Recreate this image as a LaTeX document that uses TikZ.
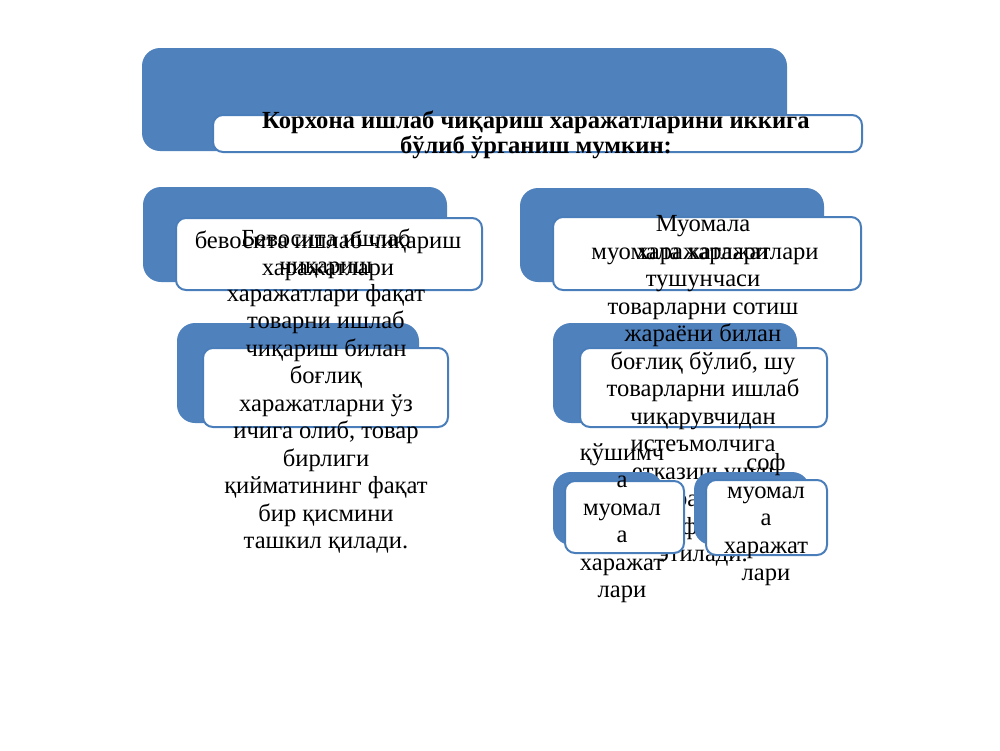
\documentclass[tikz,border=0pt]{standalone}
\usepackage{fontspec}
\setmainfont{Liberation Serif}
\definecolor{boxblue}{HTML}{4F81BD}
\definecolor{edgeblue}{HTML}{4A7EBB}
\begin{document}
\begin{tikzpicture}[x=1pt,y=-1pt,
  back/.style={fill=boxblue, draw=none, rounded corners=18pt},
  front/.style={fill=white, draw=edgeblue, line width=2pt, rounded corners=10pt},
  txt/.style={align=center, inner sep=0pt, font=\fontsize{24.6}{27.5}\selectfont},
  ttl/.style={align=center, inner sep=0pt, font=\bfseries\fontsize{24.6}{25}\selectfont}]
\useasboundingbox (0,0) rectangle (1000,750);
% title
\path[back] (142,48) rectangle (787,151);
\path[front] (213,115) rectangle (862,152);
\node[ttl] (title) at (536,135) {Корхона ишлаб чиқариш харажатларини иккига\\бўлиб ўрганиш мумкин:};
% left level 1
\path[back] (143,187) rectangle (447,282);
\path[front] (176,218) rectangle (482,290);
\node[txt] (l1) at (328,256) {бевосита ишлаб чиқариш\\харажатлари};
% right level 1
\path[back] (520,188) rectangle (824,282);
\path[front] (553,217) rectangle (861,290);
\node[txt] (r1) at (705,256) {муомала харажатлари};
% left level 2
\path[back] (177,323) rectangle (419,423);
\path[front] (203,348) rectangle (448,427);
% right level 2
\path[back] (553,323) rectangle (797,423);
\path[front] (580,348) rectangle (827,427);
% long texts
\node[txt] (l2) at (326,391) {Бевосита ишлаб\\чиқариш\\харажатлари фақат\\товарни ишлаб\\чиқариш билан\\боғлиқ\\харажатларни ўз\\ичига олиб, товар\\бирлиги\\қийматининг фақат\\бир қисмини\\ташкил қилади.};
\node[txt] (r2) at (703,391) {Муомала\\харажатлари\\тушунчаси\\товарларни сотиш\\жараёни билан\\боғлиқ бўлиб, шу\\товарларни ишлаб\\чиқарувчидан\\истеъмолчига\\етказиш учун\\жараёнида\\сарфланиб\\этилади.};
% small boxes
\path[back] (553,472) rectangle (663,545);
\path[front] (565,481) rectangle (684,553);
\path[back] (694,472) rectangle (810,545);
\path[front] (706,480) rectangle (827,555);
\node[txt] (s1) at (622,523) {қўшимч\\а\\муомал\\а\\харажат\\лари};
\node[txt] (s2) at (766,520) {соф\\муомал\\а\\харажат\\лари};
\end{tikzpicture}
\end{document}
